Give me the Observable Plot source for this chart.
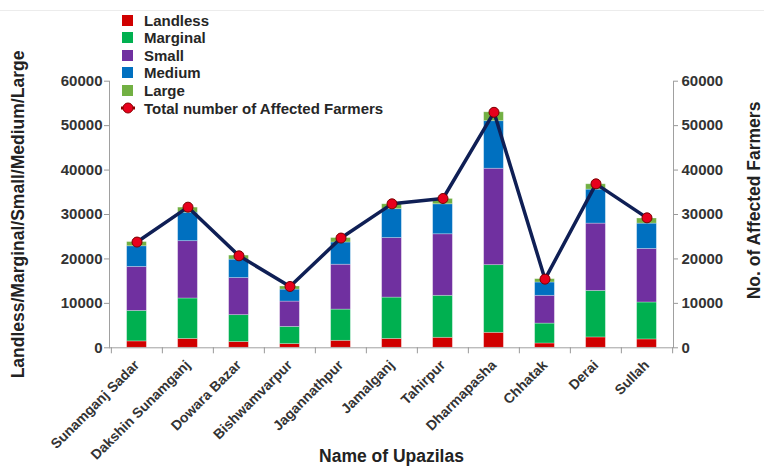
<!DOCTYPE html>
<html><head><meta charset="utf-8">
<script src="https://cdn.jsdelivr.net/npm/d3@7"></script>
<script src="https://cdn.jsdelivr.net/npm/@observablehq/plot@0.6"></script>
<style>
body{margin:0;background:#fff;font-family:"Liberation Sans",Arial,sans-serif;}
#wrap{position:relative;width:764px;height:466px;overflow:hidden;}
#chart{position:absolute;left:0;top:0;}
#legend{position:absolute;left:122px;top:0;}
.row{position:absolute;left:0;height:18px;display:flex;align-items:center;white-space:nowrap;font-weight:bold;font-size:15px;color:#262626;}
.sw{width:11px;height:11px;margin-right:11px;flex:none;}
.topline{position:absolute;left:0;top:10px;width:764px;height:1px;background:#ececec;}
</style></head><body>
<div id="wrap"><div class="topline"></div><div id="chart"></div><div id="legend"></div></div>
<script>
const upazilas = ["Sunamganj Sadar","Dakshin Sunamganj","Dowara Bazar","Bishwamvarpur","Jagannathpur","Jamalganj","Tahirpur","Dharmapasha","Chhatak","Derai","Sullah"];
const categories = ["Landless","Marginal","Small","Medium","Large"];
const landless = [1440,2000,1300,830,1570,2000,2250,3370,970,2330,1880];
const marginal = [6860,9100,6050,3870,7030,9300,9450,15230,4480,10470,8320];
const small    = [9900,12900,8350,5700,10100,13400,13850,21700,6250,15150,12050];
const medium   = [4650,6400,4150,2700,5000,6500,6750,10700,3000,7650,5700];
const large    = [950,1150,900,700,1000,1100,1200,2000,750,1200,1150];
const totals   = [23800,31650,20700,13800,24700,32400,33600,53000,15450,36900,29250];
const yTicks = [0,10000,20000,30000,40000,50000,60000];
const colors = ["#d00000","#00b050","#7030a0","#0070c0","#72b043"];
const totalLabel = "Total number of Affected Farmers";

const series = [landless, marginal, small, medium, large];
const table = upazilas.flatMap((u,i)=>categories.map((c,j)=>({upazila:u, category:c, value:series[j][i]})));
const totalTable = upazilas.map((u,i)=>({upazila:u, total:totals[i]}));

const W=764, H=466, mL=109, mR=91, mT=80.7, mB=118.7;
const step = (W-mL-mR)/upazilas.length;
const inset = (step-20)/2;
const tickFont = {fontSize:15, fontWeight:"bold", fill:"#333", stroke:"#999"};

const chart = Plot.plot({
  width:W, height:H, marginLeft:mL, marginRight:mR, marginTop:mT, marginBottom:mB,
  style:{fontFamily:"'Liberation Sans', Arial, sans-serif", background:"transparent", overflow:"visible"},
  x:{domain:upazilas, padding:0},
  y:{domain:[0,60000]},
  color:{domain:categories, range:colors},
  marks:[
    Plot.barY(table,{x:"upazila", y:"value", fill:"category", insetLeft:inset, insetRight:inset, stroke:"#fff", strokeOpacity:0.35, strokeWidth:0.8}),
    Plot.frame({anchor:"left", stroke:"#a0a0a0"}),
    Plot.frame({anchor:"right", stroke:"#a0a0a0"}),
    Plot.ruleY([0],{stroke:"#a0a0a0"}),
    Plot.axisY({anchor:"left", ticks:yTicks, tickSize:5, tickPadding:2, tickFormat:d=>String(d), label:null, ...tickFont}),
    Plot.axisY({anchor:"right", ticks:yTicks, tickSize:4, tickPadding:4, tickFormat:d=>String(d), label:null, ...tickFont}),
    Plot.axisX({anchor:"bottom", tickSize:6, tickFormat:()=>"", dx:-step/2, label:null, stroke:"#999"}),
    Plot.axisX({anchor:"bottom", ticks:[upazilas[upazilas.length-1]], tickSize:6, tickFormat:()=>"", dx:step/2, label:null, stroke:"#999"}),
    Plot.axisX({anchor:"bottom", tickSize:0, tickPadding:15, tickRotate:-45, label:null, fontSize:14, fontWeight:"bold", fill:"#333"}),
    Plot.line(totalTable,{x:"upazila", y:"total", stroke:"#0f1f55", strokeWidth:3.5}),
    Plot.dot(totalTable,{x:"upazila", y:"total", r:5, fill:"#e8001c", stroke:"#7a0000", strokeWidth:1}),
    Plot.text(["Landless/Marginal/Small/Medium/Large"],{frameAnchor:"left", rotate:-90, dx:-91, textAnchor:"middle", lineAnchor:"middle", fontSize:17.5, fontWeight:"bold", fill:"#222"}),
    Plot.text(["No. of Affected Farmers"],{frameAnchor:"right", rotate:-90, dx:81, dy:-14, textAnchor:"middle", lineAnchor:"middle", fontSize:17.5, fontWeight:"bold", fill:"#222"}),
    Plot.text(["Name of Upazilas"],{frameAnchor:"bottom", dy:109, textAnchor:"middle", lineAnchor:"middle", fontSize:17.5, fontWeight:"bold", fill:"#222"})
  ]
});
document.getElementById("chart").append(chart);

const legend = document.getElementById("legend");
const rowCenters = [20, 37.6, 55.2, 72.8, 90.4, 108];
categories.forEach((c,i)=>{
  const r = document.createElement("div");
  r.className = "row";
  r.style.top = (rowCenters[i]-9)+"px";
  r.innerHTML = `<span class="sw" style="background:${colors[i]}"></span><span>${c}</span>`;
  legend.append(r);
});
const tr = document.createElement("div");
tr.className = "row";
tr.style.top = (rowCenters[5]-9)+"px";
tr.style.left = "-1px";
tr.innerHTML = `<svg width="14" height="12" style="margin-right:9px;flex:none"><line x1="0" y1="6" x2="14" y2="6" stroke="#8b0000" stroke-width="3"/><circle cx="7" cy="6" r="5" fill="#e8001c" stroke="#8b0000" stroke-width="1"/></svg><span>${totalLabel}</span>`;
legend.append(tr);
</script>
</body></html>
